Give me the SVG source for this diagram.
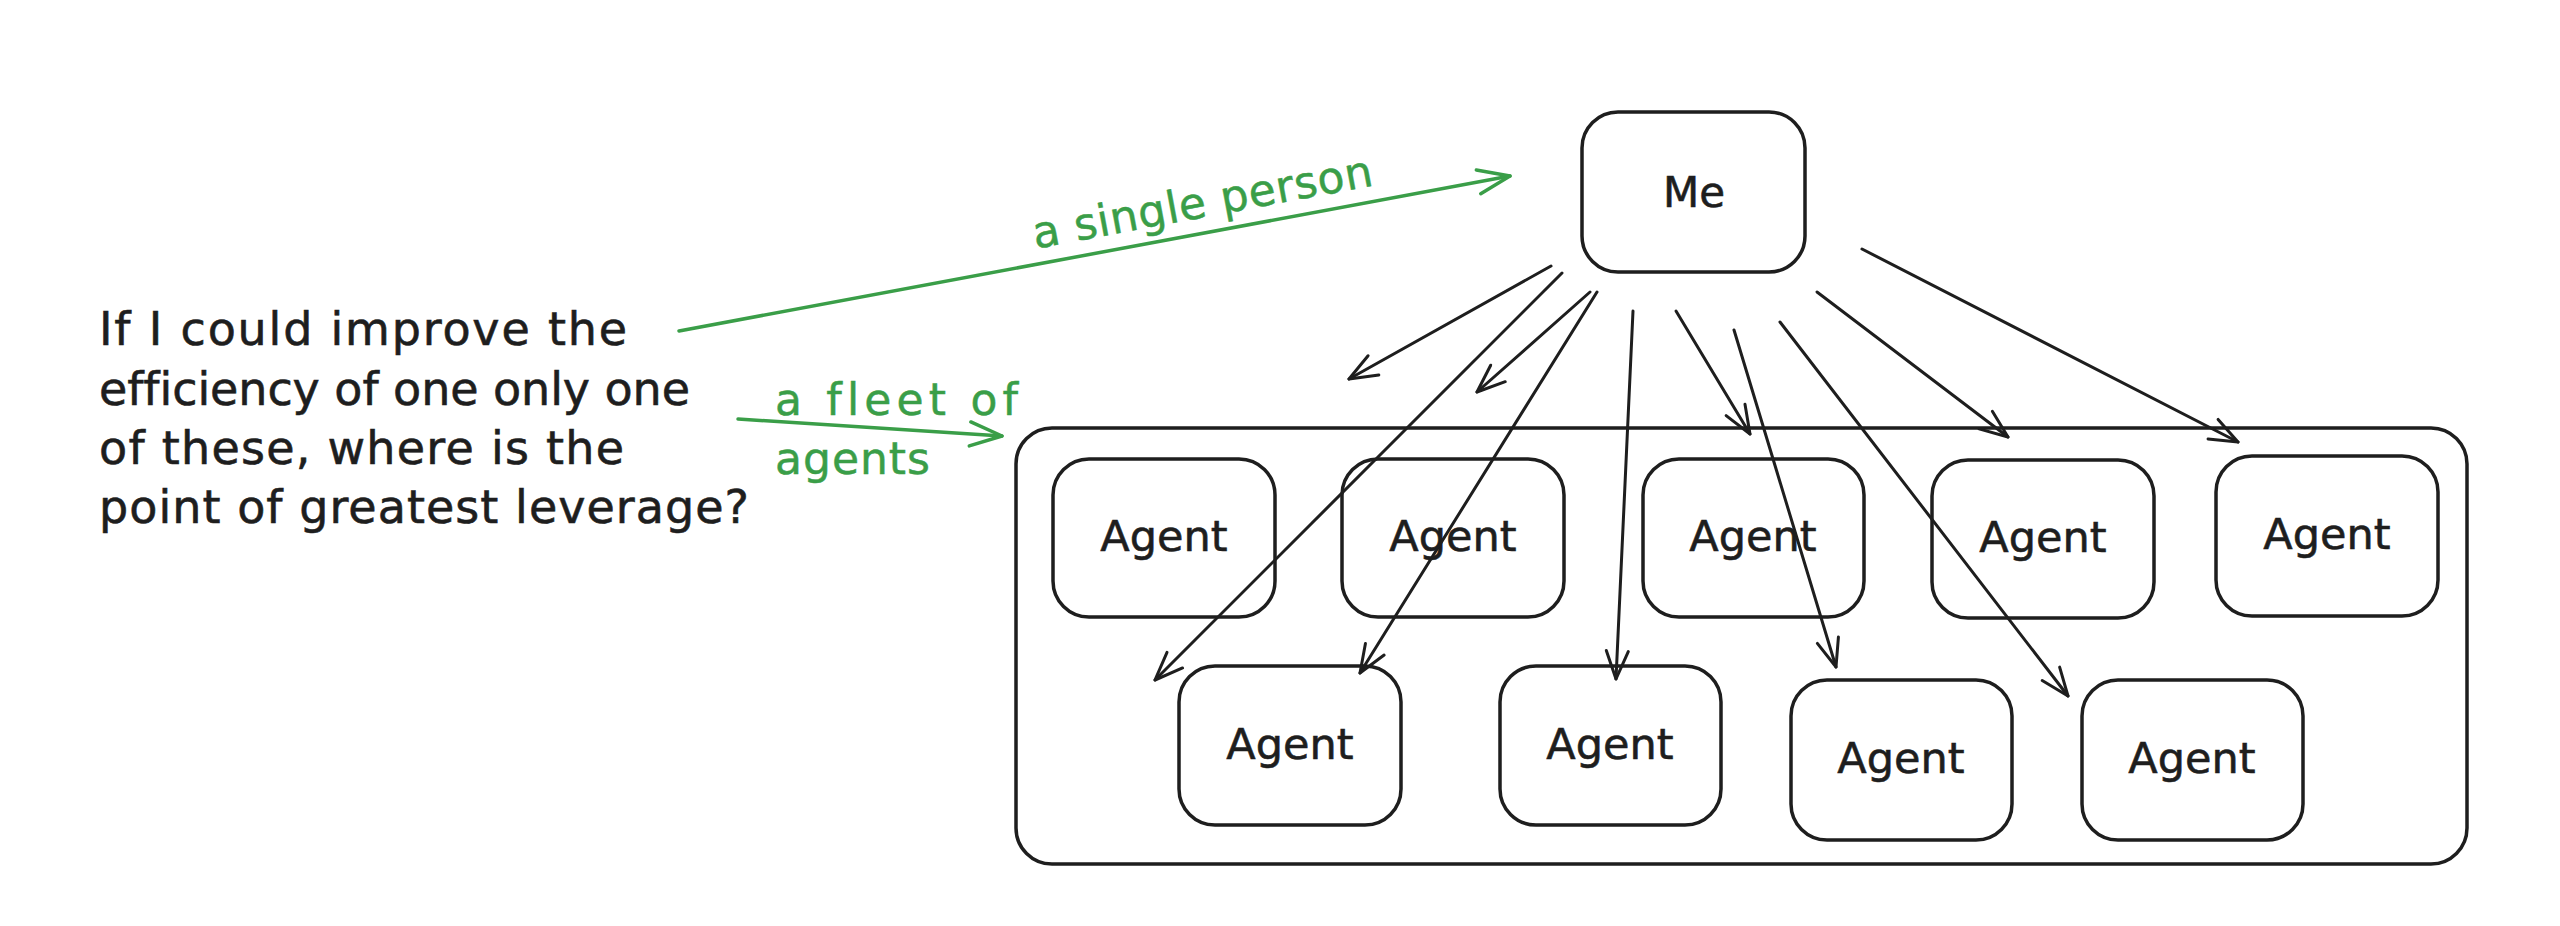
<svg xmlns="http://www.w3.org/2000/svg" width="2560" height="926" viewBox="0 0 2560 926">
<style>
text{font-variant-ligatures:none}
.box{fill:none;stroke:#1e1e1e;stroke-width:3.5;stroke-linejoin:round}
.lbl{font-family:"DejaVu Sans","Liberation Sans",sans-serif;fill:#1e1e1e;stroke:#1e1e1e;stroke-width:0.6}
.agent{font-size:43px;text-anchor:middle}
.q{font-size:46px}
.g{font-family:"DejaVu Sans","Liberation Sans",sans-serif;fill:#3a9e48;stroke:#3a9e48;stroke-width:0.5;font-size:44px}
.conn{fill:none;stroke:#1e1e1e;stroke-width:3;stroke-linecap:round}
.gconn{fill:none;stroke:#3a9e48;stroke-width:3.5;stroke-linecap:round}
</style>
<defs>
<marker id="ah" viewBox="-32 -14 36 28" refX="0" refY="0" markerWidth="36" markerHeight="28" markerUnits="userSpaceOnUse" orient="auto">
<path d="M-28,-11 L0,0 L-28,11" fill="none" stroke="#1e1e1e" stroke-width="3" stroke-linecap="round" stroke-linejoin="round"/>
</marker>
<marker id="ahg" viewBox="-36 -16 40 32" refX="0" refY="0" markerWidth="40" markerHeight="32" markerUnits="userSpaceOnUse" orient="auto">
<path d="M-32,-12 L0,0 L-32,12" fill="none" stroke="#3a9e48" stroke-width="3.5" stroke-linecap="round" stroke-linejoin="round"/>
</marker>
</defs>
<rect width="2560" height="926" fill="#ffffff"/>

<g id="question">
<text class="lbl q" x="99" y="345" textLength="528" lengthAdjust="spacing">If I could improve the</text>
<text class="lbl q" x="99" y="405" textLength="591" lengthAdjust="spacing">efficiency of one only one</text>
<text class="lbl q" x="99" y="464" textLength="525" lengthAdjust="spacing">of these, where is the</text>
<text class="lbl q" x="99" y="523" textLength="650" lengthAdjust="spacing">point of greatest leverage?</text>
</g>

<g id="fleet">
<rect class="box" x="1016" y="428" width="1451" height="436" rx="36"/>
</g>

<g id="me">
<rect class="box" x="1582" y="112" width="223" height="160" rx="36"/>
<text class="lbl" x="1694" y="207" font-size="42" text-anchor="middle">Me</text>
</g>

<g id="agent1"><rect class="box" x="1053" y="459" width="222" height="158" rx="36"/><text class="lbl agent" x="1164" y="551">Agent</text></g>
<g id="agent2"><rect class="box" x="1342" y="459" width="222" height="158" rx="36"/><text class="lbl agent" x="1453" y="551">Agent</text></g>
<g id="agent3"><rect class="box" x="1643" y="459" width="221" height="158" rx="36"/><text class="lbl agent" x="1753" y="551">Agent</text></g>
<g id="agent4"><rect class="box" x="1932" y="460" width="222" height="158" rx="36"/><text class="lbl agent" x="2043" y="552">Agent</text></g>
<g id="agent5"><rect class="box" x="2216" y="456" width="222" height="160" rx="36"/><text class="lbl agent" x="2327" y="549">Agent</text></g>
<g id="agent6"><rect class="box" x="1179" y="666" width="222" height="159" rx="36"/><text class="lbl agent" x="1290" y="759">Agent</text></g>
<g id="agent7"><rect class="box" x="1500" y="666" width="221" height="159" rx="36"/><text class="lbl agent" x="1610" y="759">Agent</text></g>
<g id="agent8"><rect class="box" x="1791" y="680" width="221" height="160" rx="36"/><text class="lbl agent" x="1901" y="773">Agent</text></g>
<g id="agent9"><rect class="box" x="2082" y="680" width="221" height="160" rx="36"/><text class="lbl agent" x="2192" y="773">Agent</text></g>

<g id="connectors">
<line class="gconn" x1="679" y1="331" x2="1510" y2="176" marker-end="url(#ahg)"/>
<text class="g" x="1205" y="217" font-size="42" text-anchor="middle" textLength="345" lengthAdjust="spacing" transform="rotate(-10.6 1205 217)">a single person</text>
<line class="gconn" x1="738" y1="419" x2="1002" y2="436" marker-end="url(#ahg)"/>
<text class="g" x="775" y="415" textLength="243" lengthAdjust="spacing">a fleet of</text>
<text class="g" x="775" y="474" textLength="155" lengthAdjust="spacing">agents</text>

<line class="conn" x1="1551" y1="266" x2="1349" y2="379" marker-end="url(#ah)"/>
<line class="conn" x1="1562" y1="273" x2="1155" y2="680" marker-end="url(#ah)"/>
<line class="conn" x1="1590" y1="292" x2="1477" y2="392" marker-end="url(#ah)"/>
<line class="conn" x1="1597" y1="292" x2="1360" y2="673" marker-end="url(#ah)"/>
<line class="conn" x1="1633" y1="311" x2="1616" y2="679" marker-end="url(#ah)"/>
<line class="conn" x1="1676" y1="311" x2="1750" y2="434" marker-end="url(#ah)"/>
<line class="conn" x1="1734" y1="330" x2="1836" y2="667" marker-end="url(#ah)"/>
<line class="conn" x1="1780" y1="322" x2="2068" y2="696" marker-end="url(#ah)"/>
<line class="conn" x1="1817" y1="292" x2="2008" y2="437" marker-end="url(#ah)"/>
<line class="conn" x1="1862" y1="249" x2="2238" y2="442" marker-end="url(#ah)"/>
</g>
</svg>
